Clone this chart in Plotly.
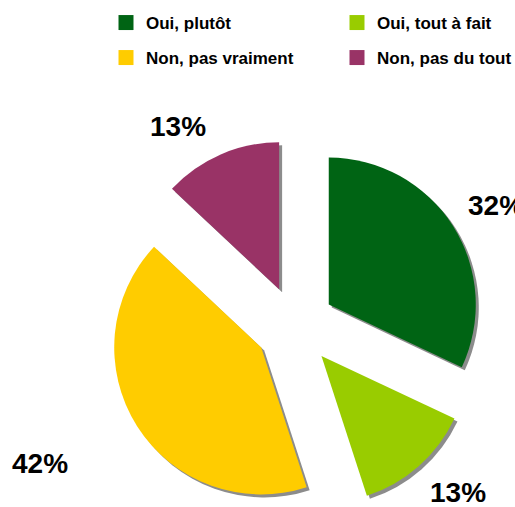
import math
import plotly.graph_objects as go

# ---- data ----
labels = ["Oui, plutôt", "Oui, tout à fait", "Non, pas vraiment", "Non, pas du tout"]
values = [32, 13, 42, 13]
pct_text = ["32%", "13%", "42%", "13%"]
colors = ["#006414", "#99cc00", "#ffcc00", "#993366"]

# ---- layout constants ----
W, H = 515, 507
CX, CY = 295, 326          # centre of the un-exploded pie (px)
R = 147                    # slice radius (px)
PULL = 40                  # explode distance (px)
SHADOW = 3                 # drop shadow offset (px)
FONT = "Liberation Sans, Arial, sans-serif"
# label placement: (angle nudge in degrees, radial distance px) relative to each slice bisector
LABEL_PLACE = [(1.5, 234), (-3.0, 233), (4.0, 290), (-7.0, 231)]
# legend entries: (x px of legend box, y px of legend top)
LEGEND_PLACE = [(106, 5), (337, 5), (106, 40), (337, 40)]

total = sum(values)
angles = []
cum = 0
for v in values:
    angles.append((cum + v / 2) / total * 360.0)
    cum += v

fig = go.Figure()


def clamp(v):
    return min(1.0, max(0.0, v))


def add_slice(i, dx, dy, color):
    a = math.radians(angles[i])
    cx = CX + PULL * math.sin(a) + dx
    cy = CY - PULL * math.cos(a) + dy
    dom_x = [clamp((cx - R) / W), clamp((cx + R) / W)]
    dom_y = [clamp((H - (cy + R)) / H), clamp((H - (cy - R)) / H)]
    fig.add_trace(go.Pie(
        labels=labels, values=values, sort=False, direction="clockwise", rotation=0,
        marker=dict(colors=[color if j == i else "rgba(0,0,0,0)" for j in range(len(values))],
                    line=dict(width=0)),
        textinfo="none",
        domain=dict(x=dom_x, y=dom_y), showlegend=False, hoverinfo="skip",
    ))


for i in range(len(values)):
    add_slice(i, SHADOW, SHADOW, "#8c8c8c")
for i in range(len(values)):
    add_slice(i, 0, 0, colors[i])

annotations = []
for i, txt in enumerate(pct_text):
    nudge, dist = LABEL_PLACE[i]
    a = math.radians(angles[i] + nudge)
    lx = CX + dist * math.sin(a)
    ly = CY - dist * math.cos(a)
    annotations.append(dict(x=lx / W, y=(H - ly) / H, xref="paper", yref="paper",
                            text=txt, showarrow=False, xanchor="center", yanchor="middle",
                            font=dict(family=FONT, size=28, color="black", weight=700)))

layout_legends = {}
for k, (lab, col) in enumerate(zip(labels, colors)):
    name = "legend" if k == 0 else f"legend{k + 1}"
    fig.add_trace(go.Scatter(x=[None], y=[None], mode="markers", name=lab, legend=name,
                             marker=dict(symbol="square", size=15, color=col), hoverinfo="skip"))
    lx, ly = LEGEND_PLACE[k]
    layout_legends[name] = dict(x=lx / W, y=1 - ly / H, xanchor="left", yanchor="top",
                                font=dict(family=FONT, size=17, color="black", weight=700),
                                bgcolor="rgba(0,0,0,0)", itemclick=False, itemdoubleclick=False)

fig.update_layout(
    width=W, height=H, margin=dict(l=0, r=0, t=0, b=0, autoexpand=False),
    paper_bgcolor="white", plot_bgcolor="white",
    xaxis=dict(visible=False), yaxis=dict(visible=False),
    annotations=annotations,
    **layout_legends,
)

fig.write_html("out.html")
